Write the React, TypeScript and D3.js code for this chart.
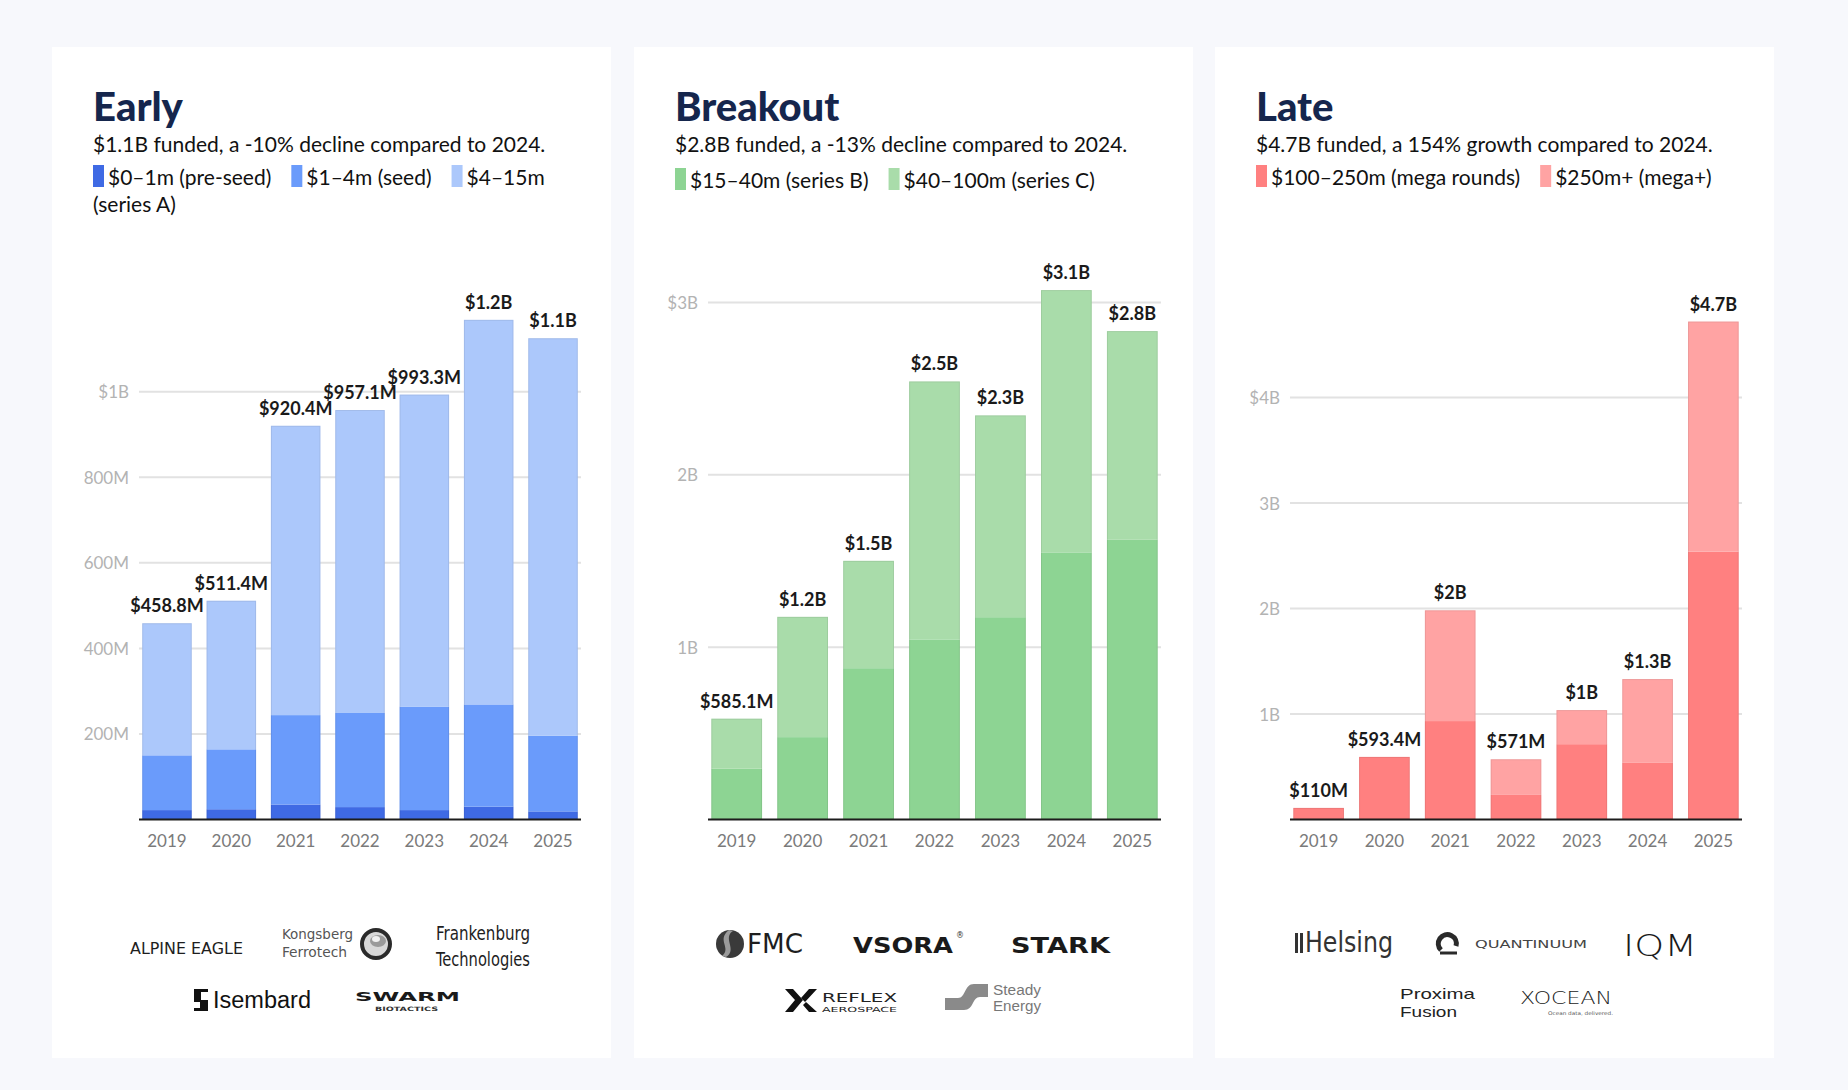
import React, { useEffect, useRef } from 'react';
import * as d3 from 'd3';

// ---------------- DATA ----------------
const years = ['2019', '2020', '2021', '2022', '2023', '2024', '2025'];

// Early (values in $M)
const earlyPreSeed = [22, 24, 35, 29, 22, 30, 19];
const earlySeed = [128, 140, 209, 220, 242, 239, 177];
const earlySeriesA = [308.8, 347.4, 676.4, 708.1, 729.3, 899, 929];
const earlyLabels = ['$458.8M', '$511.4M', '$920.4M', '$957.1M', '$993.3M', '$1.2B', '$1.1B'];
const earlyTicks = [200, 400, 600, 800, 1000];
const earlyTickLabels = ['200M', '400M', '600M', '800M', '$1B'];
const earlyLegend = ['$0–1m (pre-seed)', '$1–4m (seed)', '$4–15m (series A)'];
const earlyColors = ['#3f6ae4', '#6a9bfb', '#acc8fb'];

// Breakout (values in $M)
const breakoutSeriesB = [296, 478, 878, 1045, 1174, 1550, 1623];
const breakoutSeriesC = [289.1, 698, 623, 1497, 1171, 1522, 1211];
const breakoutLabels = ['$585.1M', '$1.2B', '$1.5B', '$2.5B', '$2.3B', '$3.1B', '$2.8B'];
const breakoutTicks = [1000, 2000, 3000];
const breakoutTickLabels = ['1B', '2B', '$3B'];
const breakoutLegend = ['$15–40m (series B)', '$40–100m (series C)'];
const breakoutColors = ['#8dd493', '#a9dcaa'];

// Late (values in $M)
const lateMega = [110, 593.4, 933, 233, 714, 537, 2539];
const lateMegaPlus = [0, 0, 1050, 338, 323, 794, 2181];
const lateLabels = ['$110M', '$593.4M', '$2B', '$571M', '$1B', '$1.3B', '$4.7B'];
const lateTicks = [1000, 2000, 3000, 4000];
const lateTickLabels = ['1B', '2B', '3B', '$4B'];
const lateLegend = ['$100–250m (mega rounds)', '$250m+ (mega+)'];
const lateColors = ['#ff8080', '#ffa3a3'];

// ---------------- LAYOUT ----------------
const W = 1848;
const H = 1090;
const PANEL_Y = 47;
const PANEL_H = 1011;
const PANEL_W = 559;
const BASE_Y = 819.5;
const FONT = "Lato, 'Open Sans', sans-serif";

const panels = [
  {
    key: 'early', x: 52, title: 'Early',
    subtitle: '$1.1B funded, a -10% decline compared to 2024.',
    series: [earlyPreSeed, earlySeed, earlySeriesA], colors: earlyColors, legend: earlyLegend,
    labels: earlyLabels, ticks: earlyTicks, tickLabels: earlyTickLabels,
    plot: [139, 581], yMax: 1000, yMaxPx: 391.7, legendY: 185,
  },
  {
    key: 'breakout', x: 634, title: 'Breakout',
    subtitle: '$2.8B funded, a -13% decline compared to 2024.',
    series: [breakoutSeriesB, breakoutSeriesC], colors: breakoutColors, legend: breakoutLegend,
    labels: breakoutLabels, ticks: breakoutTicks, tickLabels: breakoutTickLabels,
    plot: [708, 1161], yMax: 3000, yMaxPx: 302.5, legendY: 188,
  },
  {
    key: 'late', x: 1215, title: 'Late',
    subtitle: '$4.7B funded, a 154% growth compared to 2024.',
    series: [lateMega, lateMegaPlus], colors: lateColors, legend: lateLegend,
    labels: lateLabels, ticks: lateTicks, tickLabels: lateTickLabels,
    plot: [1290, 1742], yMax: 4000, yMaxPx: 397.5, legendY: 185,
  },
];

function txt(g: any, x: number, y: number, s: string, opts: any = {}) {
  const t = g.append('text')
    .attr('x', x).attr('y', y)
    .attr('font-family', opts.family || FONT)
    .attr('font-size', opts.size || 16)
    .attr('font-weight', opts.weight || 400)
    .attr('fill', opts.fill || '#222')
    .text(s);
  if (opts.anchor) t.attr('text-anchor', opts.anchor);
  if (opts.len) t.attr('textLength', opts.len).attr('lengthAdjust', 'spacingAndGlyphs');
  if (opts.ls) t.attr('letter-spacing', opts.ls);
  if (opts.baseline) t.attr('dominant-baseline', opts.baseline);
  return t;
}

function drawLogos(g: any, key: string) {
  if (key === 'early') {
    txt(g, 130, 954, 'ALPINE EAGLE', { family: "'DejaVu Sans'", size: 15, weight: 500, fill: '#1e1e1e', len: 113 });
    txt(g, 282, 939, 'Kongsberg', { family: "'DejaVu Sans Condensed', 'DejaVu Sans'", size: 14, fill: '#555', len: 71 });
    txt(g, 282, 957, 'Ferrotech', { family: "'DejaVu Sans Condensed', 'DejaVu Sans'", size: 14, fill: '#555', len: 65 });
    g.append('circle').attr('cx', 376).attr('cy', 944).attr('r', 14).attr('fill', '#d8d8d8').attr('stroke', '#2a2a2a').attr('stroke-width', 4);
    g.append('ellipse').attr('cx', 378).attr('cy', 941).attr('rx', 8).attr('ry', 6).attr('fill', '#9a9a9a');
    g.append('ellipse').attr('cx', 376).attr('cy', 939).attr('rx', 4).attr('ry', 3).attr('fill', '#f0f0f0');
    txt(g, 436, 940, 'Frankenburg', { family: "'Liberation Sans Narrow', 'DejaVu Sans Condensed'", size: 20, fill: '#1e1e1e', len: 94 });
    txt(g, 436, 966, 'Technologies', { family: "'Liberation Sans Narrow', 'DejaVu Sans Condensed'", size: 20, fill: '#1e1e1e', len: 94 });
    g.append('rect').attr('x', 194).attr('y', 989).attr('width', 14).attr('height', 22).attr('fill', '#111');
    g.append('rect').attr('x', 201).attr('y', 992).attr('width', 7).attr('height', 8).attr('fill', '#fff');
    g.append('rect').attr('x', 194).attr('y', 1002).attr('width', 6).attr('height', 6).attr('fill', '#fff');
    txt(g, 213, 1008, 'Isembard', { family: "'Liberation Sans', Arial", size: 23, fill: '#111', len: 98 });
    txt(g, 355, 1001, 'SWARM', { family: "'DejaVu Sans'", size: 12, weight: 700, fill: '#1a1a1a', len: 105 });
    txt(g, 375, 1011, 'BIOTACTICS', { family: "'DejaVu Sans'", size: 6, weight: 700, fill: '#333', len: 63 });
  } else if (key === 'breakout') {
    g.append('circle').attr('cx', 730).attr('cy', 944).attr('r', 14).attr('fill', '#3a3a3a');
    g.append('path').attr('d', 'M 733 931 C 722 938, 738 950, 726 957 L 722 956 C 732 948, 716 940, 729 930 Z').attr('fill', '#9a9a9a');
    txt(g, 747, 953, 'FMC', { family: "'Liberation Sans Narrow', 'DejaVu Sans Condensed'", size: 26, fill: '#1e1e1e', len: 56 });
    txt(g, 853, 953, 'VSORA', { family: "'DejaVu Sans'", size: 22, weight: 700, fill: '#1a1a1a', len: 100 });
    txt(g, 956, 938, '®', { family: "'DejaVu Sans'", size: 8, fill: '#333' });
    txt(g, 1011, 953, 'STARK', { family: "'DejaVu Sans'", size: 22, weight: 700, fill: '#1a1a1a', len: 99 });
    g.append('path').attr('d', 'M 785 989 L 793 989 L 803 1000 L 793 1012 L 785 1012 L 795 1000 Z').attr('fill', '#111');
    g.append('path').attr('d', 'M 817 989 L 809 989 L 801 998 L 805 1002 Z M 817 1012 L 809 1012 L 803 1005 L 806 1002 Z').attr('fill', '#111');
    txt(g, 822, 1002, 'REFLEX', { family: "'DejaVu Sans'", size: 12, fill: '#222', len: 75 });
    txt(g, 822, 1012, 'AEROSPACE', { family: "'DejaVu Sans'", size: 7, fill: '#222', len: 75 });
    g.append('path').attr('d', 'M 945 998 L 958 998 C 966 998, 964 984, 974 984 L 988 984 L 988 997 L 980 997 C 972 997, 974 1010, 964 1010 L 945 1010 Z').attr('fill', '#8a8a8a');
    txt(g, 993, 995, 'Steady', { family: "'Liberation Sans', Arial", size: 14, fill: '#777', len: 48 });
    txt(g, 993, 1011, 'Energy', { family: "'Liberation Sans', Arial", size: 14, fill: '#777', len: 48 });
  } else {
    g.append('rect').attr('x', 1295).attr('y', 933).attr('width', 3).attr('height', 20).attr('fill', '#333');
    g.append('rect').attr('x', 1300).attr('y', 933).attr('width', 3).attr('height', 20).attr('fill', '#333');
    txt(g, 1305, 952, 'Helsing', { family: "'Liberation Sans Narrow', 'DejaVu Sans Condensed'", size: 28, fill: '#333', len: 88 });
    g.append('path').attr('d', 'M 1441 950 A 9 9 0 1 1 1456 946').attr('fill', 'none').attr('stroke', '#2a2a2a').attr('stroke-width', 5);
    g.append('path').attr('d', 'M 1440 953 L 1457 953').attr('stroke', '#2a2a2a').attr('stroke-width', 3);
    txt(g, 1475, 948, 'QUANTINUUM', { family: "'DejaVu Sans'", size: 11, fill: '#444', len: 112 });
    txt(g, 1623, 956, 'IQM', { family: "'DejaVu Sans'", size: 30, weight: 300, fill: '#1a1a1a', len: 74 });
    txt(g, 1400, 999, 'Proxima', { family: "'Liberation Sans', Arial", size: 15, fill: '#222', len: 75 });
    txt(g, 1400, 1017, 'Fusion', { family: "'Liberation Sans', Arial", size: 15, fill: '#222', len: 57 });
    txt(g, 1520, 1004, 'XOCEAN', { family: "'DejaVu Sans'", size: 17, weight: 300, fill: '#222', len: 92 });
    txt(g, 1548, 1015, 'Ocean data, delivered.', { family: "'DejaVu Sans'", size: 5, fill: '#555', len: 65 });
  }
}

function draw(el: SVGSVGElement) {
  const svg = d3.select(el);
  svg.selectAll('*').remove();
  svg.append('rect').attr('width', W).attr('height', H).attr('fill', '#f7f8fc');

  panels.forEach((p) => {
    const g = svg.append('g');
    g.append('rect').attr('x', p.x).attr('y', PANEL_Y).attr('width', PANEL_W).attr('height', PANEL_H).attr('fill', '#ffffff');

    const tx = p.x + 41;
    txt(g, tx, 121, p.title, { size: 40, weight: 900, fill: '#15264d' });
    txt(g, tx, 151.5, p.subtitle, { size: 21, fill: '#111' });

    // legend with wrapping
    const maxX = p.x + PANEL_W - 40;
    let x = tx;
    let y = p.legendY;
    const lOpts = { size: 21, fill: '#111' };
    p.legend.forEach((label, i) => {
      const words = label.split(' ');
      const probe = txt(g, 0, 0, words[0], lOpts);
      const w0 = (probe.node() as SVGTextElement).getComputedTextLength();
      probe.remove();
      if (x + 15 + w0 > maxX && x > tx) { x = tx; y += 27; }
      g.append('rect').attr('x', x).attr('y', y - 20).attr('width', 11).attr('height', 22).attr('fill', p.colors[i]);
      x += 15;
      let line = txt(g, x, y, '', lOpts);
      let content = '';
      words.forEach((w) => {
        const trial = content ? content + ' ' + w : w;
        line.text(trial);
        if (x + (line.node() as SVGTextElement).getComputedTextLength() > maxX && content) {
          line.text(content);
          x = tx; y += 27;
          line = txt(g, x, y, w, lOpts);
          content = w;
        } else {
          content = trial;
        }
      });
      x += (line.node() as SVGTextElement).getComputedTextLength() + 20;
    });

    // scales
    const xScale = d3.scaleBand<string>().domain(years).range(p.plot as [number, number]).paddingInner(0.23).paddingOuter(0.05);
    const yScale = d3.scaleLinear().domain([0, p.yMax]).range([BASE_Y, p.yMaxPx]);

    // gridlines + y labels
    p.ticks.forEach((t, i) => {
      g.append('line').attr('x1', p.plot[0]).attr('x2', p.plot[1]).attr('y1', yScale(t)).attr('y2', yScale(t))
        .attr('stroke', '#e2e2e2').attr('stroke-width', 2);
      txt(g, p.plot[0] - 10, yScale(t), p.tickLabels[i], { size: 17, fill: '#b3b3b3', anchor: 'end', baseline: 'central' });
    });

    // stacked bars
    const stackData = years.map((yr, i) => {
      const o: any = { year: yr };
      p.series.forEach((s, k) => { o['s' + k] = s[i]; });
      return o;
    });
    const keys = p.series.map((_, k) => 's' + k);
    const stacked = d3.stack().keys(keys)(stackData);
    stacked.forEach((layer, k) => {
      layer.forEach((d: any) => {
        if (d[1] - d[0] <= 0) return;
        g.append('rect')
          .attr('x', xScale(d.data.year) as number)
          .attr('y', yScale(d[1]))
          .attr('width', xScale.bandwidth())
          .attr('height', yScale(d[0]) - yScale(d[1]))
          .attr('fill', p.colors[k]);
      });
    });
    // outlines + value labels
    years.forEach((yr, i) => {
      const total = p.series.reduce((a, s) => a + s[i], 0);
      const bx = xScale(yr) as number;
      g.append('rect').attr('x', bx + 0.5).attr('y', yScale(total) + 0.5).attr('width', xScale.bandwidth() - 1)
        .attr('height', BASE_Y - yScale(total) - 1).attr('fill', 'none').attr('stroke', '#000').attr('stroke-opacity', 0.07);
      txt(g, bx + xScale.bandwidth() / 2, yScale(total) - 11, p.labels[i], { size: 18, weight: 700, fill: '#1a1a1a', anchor: 'middle' });
      txt(g, bx + xScale.bandwidth() / 2, 847, yr, { size: 17, fill: '#7a7a7a', anchor: 'middle' });
    });

    // baseline
    g.append('line').attr('x1', p.plot[0]).attr('x2', p.plot[1]).attr('y1', BASE_Y).attr('y2', BASE_Y)
      .attr('stroke', '#1d1d1d').attr('stroke-width', 2);

    drawLogos(g, p.key);
  });
}

export default function App() {
  const ref = useRef<SVGSVGElement>(null);
  useEffect(() => {
    if (!ref.current) return;
    draw(ref.current);
    if ((document as any).fonts && (document as any).fonts.ready) {
      (document as any).fonts.ready.then(() => { if (ref.current) draw(ref.current); });
    }
  }, []);
  return (
    <div style={{ position: 'absolute', left: 0, top: 0 }}>
      <svg ref={ref} width={W} height={H} style={{ display: 'block' }} />
    </div>
  );
}
